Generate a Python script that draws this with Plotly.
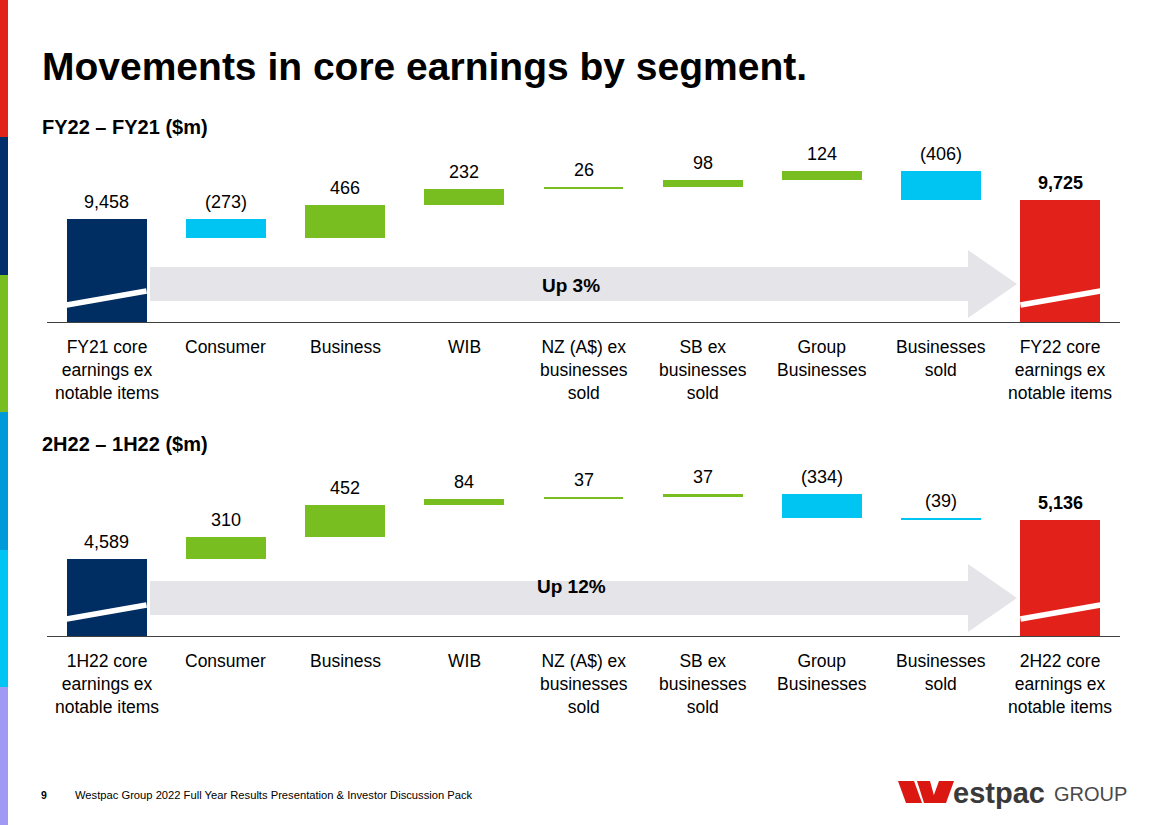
import plotly.graph_objects as go

# ---------------- data ----------------
categories_fy = ["FY21 core<br>earnings ex<br>notable items", "Consumer", "Business", "WIB",
                 "NZ (A$) ex<br>businesses<br>sold", "SB ex<br>businesses<br>sold",
                 "Group<br>Businesses", "Businesses<br>sold", "FY22 core<br>earnings ex<br>notable items"]
categories_h = ["1H22 core<br>earnings ex<br>notable items", "Consumer", "Business", "WIB",
                "NZ (A$) ex<br>businesses<br>sold", "SB ex<br>businesses<br>sold",
                "Group<br>Businesses", "Businesses<br>sold", "2H22 core<br>earnings ex<br>notable items"]
fy_start = 9458
fy_moves = [-273, 466, 232, 26, 98, 124, -406]
fy_end = 9725
h_start = 4589
h_moves = [310, 452, 84, 37, 37, -334, -39]
h_end = 5136
fy_growth = "Up 3%"
h_growth = "Up 12%"

# ---------------- style ----------------
W, H = 1168, 825
FONT = "Arial, Liberation Sans, sans-serif"
NAVY = "#002D62"
RED = "#E3211B"
GREEN = "#78BE20"
CYAN = "#00C4F1"
GREY_ARROW = "#E5E4E8"
UNITS_PER_PX = 14.15
BAR_W = 0.67


def px_x(p):
    return p / W


def px_y(p):
    return 1 - p / H


fig = go.Figure()

panels = [
    dict(cats=categories_fy, start=fy_start, moves=fy_moves, end=fy_end, floor=8000,
         base_px=322, growth=fy_growth, xa="x", ya="y"),
    dict(cats=categories_h, start=h_start, moves=h_moves, end=h_end, floor=3500,
         base_px=636, growth=h_growth, xa="x2", ya="y2"),
]

shapes = []
annotations = []

for p in panels:
    floor = p["floor"]
    n = len(p["cats"])
    xs = list(range(n))
    bases, heights, colors, tops, labels = [], [], [], [], []
    # start total
    bases.append(floor)
    heights.append(p["start"] - floor)
    colors.append(NAVY)
    tops.append(p["start"])
    labels.append(f"{p['start']:,}")
    run = p["start"]
    for m in p["moves"]:
        lo = min(run, run + m)
        bases.append(lo)
        heights.append(abs(m))
        colors.append(GREEN if m > 0 else CYAN)
        tops.append(max(run, run + m))
        labels.append(f"{m:,}" if m > 0 else f"({abs(m):,})")
        run += m
    bases.append(floor)
    heights.append(p["end"] - floor)
    colors.append(RED)
    tops.append(p["end"])
    labels.append(f"<b>{p['end']:,}</b>")

    fig.add_trace(go.Bar(x=xs, y=heights, base=bases, marker=dict(color=colors, line=dict(width=0)),
                         width=BAR_W, xaxis=p["xa"], yaxis=p["ya"], hoverinfo="skip", showlegend=False))

    xref = p["xa"]
    yref = p["ya"]
    for i in xs:
        annotations.append(dict(x=i, y=tops[i], xref=xref, yref=yref, text=labels[i],
                                showarrow=False, yanchor="bottom", yshift=5,
                                font=dict(family=FONT, size=18, color="#000")))
        annotations.append(dict(x=i, y=px_y(p["base_px"] + 13), xref=xref, yref="paper",
                                text=p["cats"][i], showarrow=False, yanchor="top",
                                font=dict(family=FONT, size=17.5, color="#000")))
    # axis-break stripes on the total bars
    for i in (0, n - 1):
        shapes.append(dict(type="line", xref=xref, yref=yref,
                           x0=i - BAR_W / 2, x1=i + BAR_W / 2,
                           y0=floor + 17 * UNITS_PER_PX, y1=floor + 31 * UNITS_PER_PX,
                           line=dict(color="white", width=5.5), layer="above"))
    # growth arrow
    b = p["base_px"]
    yc = b - 38
    x0, xh, xt = 150, 968, 1017
    path = (f"M {px_x(x0)},{px_y(yc-17)} L {px_x(xh)},{px_y(yc-17)} L {px_x(xh)},{px_y(yc-34)} "
            f"L {px_x(xt)},{px_y(yc)} L {px_x(xh)},{px_y(yc+34)} L {px_x(xh)},{px_y(yc+17)} "
            f"L {px_x(x0)},{px_y(yc+17)} Z")
    shapes.append(dict(type="path", xref="paper", yref="paper", path=path,
                       fillcolor=GREY_ARROW, line=dict(width=0), layer="below"))
    annotations.append(dict(x=px_x(571), y=px_y(yc + 1), xref="paper", yref="paper",
                            text=f"<b>{p['growth']}</b>", showarrow=False,
                            font=dict(family=FONT, size=19, color="#000")))

# left colour strip
strip = [("#E2231A", 0, 137), ("#002F6C", 137, 275), ("#78BE20", 275, 412),
         ("#009ADA", 412, 550), ("#00C4F3", 550, 687), ("#A19AF5", 687, 825)]
for c, a, bb in strip:
    shapes.append(dict(type="rect", xref="paper", yref="paper", x0=0, x1=px_x(8),
                       y0=px_y(bb), y1=px_y(a), fillcolor=c, line=dict(width=0)))

# Westpac logo W strokes
LOGO_RED = "#DA1710"
w_strokes = [
    [(898, 781), (914, 781), (922, 803), (906, 803)],
    [(917, 781), (930, 781), (936, 803), (924, 803)],
    [(939, 781), (954, 781), (946, 803), (931, 803)],
]
for pts in w_strokes:
    d = "M " + " L ".join(f"{px_x(a)},{px_y(bb)}" for a, bb in pts) + " Z"
    shapes.append(dict(type="path", xref="paper", yref="paper", path=d,
                       fillcolor=LOGO_RED, line=dict(width=0)))

# titles and footer
annotations += [
    dict(x=px_x(40), y=px_y(90), xref="paper", yref="paper", xanchor="left", yanchor="bottom",
         text="<b>Movements in core earnings by segment.</b>", showarrow=False,
         font=dict(family=FONT, size=39, color="#000")),
    dict(x=px_x(40), y=px_y(127), xref="paper", yref="paper", xanchor="left", yanchor="middle",
         text="<b>FY22 – FY21 ($m)</b>", showarrow=False,
         font=dict(family=FONT, size=20, color="#000")),
    dict(x=px_x(40), y=px_y(444), xref="paper", yref="paper", xanchor="left", yanchor="middle",
         text="<b>2H22 – 1H22 ($m)</b>", showarrow=False,
         font=dict(family=FONT, size=20, color="#000")),
    dict(x=px_x(39), y=px_y(795), xref="paper", yref="paper", xanchor="left", yanchor="middle",
         text="<b>9</b>", showarrow=False, font=dict(family=FONT, size=10.5, color="#000")),
    dict(x=px_x(73), y=px_y(795), xref="paper", yref="paper", xanchor="left", yanchor="middle",
         text="Westpac Group 2022 Full Year Results Presentation & Investor Discussion Pack",
         showarrow=False, font=dict(family=FONT, size=11.2, color="#000")),
    dict(x=px_x(951), y=px_y(793), xref="paper", yref="paper", xanchor="left", yanchor="middle",
         text="<b>estpac</b>", showarrow=False, font=dict(family=FONT, size=29, color="#3A3A3A")),
    dict(x=px_x(1052), y=px_y(794), xref="paper", yref="paper", xanchor="left", yanchor="middle",
         text="GROUP", showarrow=False, font=dict(family=FONT, size=20, color="#4A4A4A")),
]

top_range = 182 * UNITS_PER_PX
xdom = [px_x(47), px_x(1120)]
axis_common = dict(range=[-0.5, 8.5], showgrid=False, zeroline=False, showticklabels=False,
                   ticks="", showline=True, linecolor="#404040", linewidth=1, fixedrange=True)
fig.update_layout(
    width=W, height=H, margin=dict(l=0, r=0, t=0, b=0),
    paper_bgcolor="white", plot_bgcolor="rgba(0,0,0,0)",
    xaxis=dict(domain=xdom, anchor="y", **axis_common),
    xaxis2=dict(domain=xdom, anchor="y2", **axis_common),
    yaxis=dict(domain=[px_y(322), px_y(140)], range=[8000, 8000 + top_range], visible=False, fixedrange=True),
    yaxis2=dict(domain=[px_y(636), px_y(454)], range=[3500, 3500 + top_range], visible=False, fixedrange=True),
    shapes=shapes, annotations=annotations, bargap=0, showlegend=False,
)

fig.write_html("out.html", config={"displayModeBar": False},
               post_script="document.body.style.margin='0';document.body.style.overflow='hidden';")
